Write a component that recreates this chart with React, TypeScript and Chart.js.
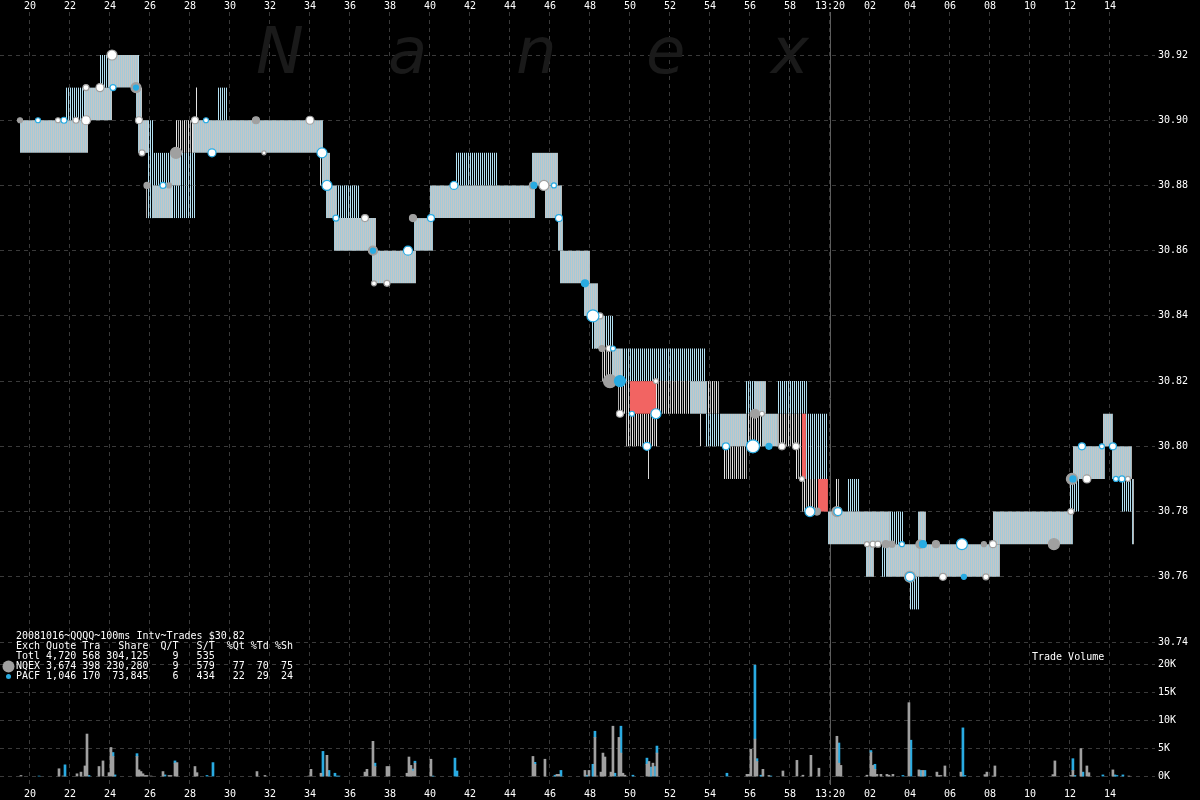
import React, { useEffect, useRef } from "react";
import { Chart, registerables } from "chart.js";

Chart.register(...registerables);

// ---- time axis: seconds after 13:19:00 ----
const timeTicks = [20, 22, 24, 26, 28, 30, 32, 34, 36, 38, 40, 42, 44, 46, 48, 50, 52, 54, 56, 58, 60, 62, 64, 66, 68, 70, 72, 74];
const timeMin = 18.5;
const timeMax = 76.25;
const minuteMark = 60;

// ---- price axis ----
const priceTicks = [30.74, 30.76, 30.78, 30.8, 30.82, 30.84, 30.86, 30.88, 30.9, 30.92];
const priceMin = 30.73755;
const priceMax = 30.93319;

// ---- volume axis ----
const volumeTicks = [0, 5000, 10000, 15000, 20000];
const volumeMin = -2036;
const volumeMax = 22607;

// ---- quote band segments (S solid, C cyan hatch, G gray hatch, R crossed) ----
const bandStart = [19.5, 21.75, 22.75, 23.45, 23.9, 25.4, 25.3, 25.4, 25.9, 25.65, 25.8, 26.1, 26.2, 27.0, 27.1, 27.5, 27.3, 28.15, 29.35, 28.3, 30.45, 34.5, 34.6, 34.8, 35.35, 35.2, 36.55, 37.1, 39.2, 40.0, 41.25, 45.1, 45.65, 45.75, 46.4, 46.5, 47.7, 48.05, 48.2, 48.1, 48.6, 49.1, 49.65, 49.4, 50.0, 51.3, 49.8, 53.0, 53.85, 50.9, 53.5, 53.75, 54.5, 54.7, 55.75, 56.25, 55.85, 56.6, 57.35, 57.35, 57.4, 58.3, 58.8, 58.6, 58.6, 59.4, 60.3, 60.85, 59.9, 63.0, 64.4, 61.8, 62.55, 62.85, 64.0, 64.5, 68.15, 72.0, 72.15, 73.65, 74.1, 74.55, 75.1];
const bandEnd = [22.9, 22.75, 24.1, 23.9, 25.4, 25.5, 25.6, 25.9, 26.2, 25.7, 26.1, 27.1, 27.0, 27.5, 28.3, 28.3, 28.15, 34.65, 29.9, 28.35, 30.5, 34.55, 35.0, 35.35, 36.5, 37.3, 36.6, 39.3, 40.15, 45.25, 43.4, 46.4, 45.7, 46.6, 46.65, 48.0, 48.4, 49.2, 48.75, 48.15, 49.1, 49.65, 53.8, 50.0, 51.3, 53.0, 51.4, 53.85, 54.5, 50.95, 53.55, 54.5, 55.85, 55.85, 56.25, 56.8, 56.6, 57.4, 57.4, 58.85, 58.6, 58.8, 59.9, 58.8, 59.4, 59.9, 60.5, 61.5, 63.0, 63.7, 64.8, 62.2, 62.85, 64.5, 64.5, 68.5, 72.15, 72.5, 73.75, 74.15, 75.1, 75.1, 75.2];
const bandLow = [30.89, 30.9, 30.9, 30.91, 30.91, 30.9, 30.9, 30.89, 30.87, 30.88, 30.87, 30.87, 30.88, 30.88, 30.87, 30.88, 30.89, 30.89, 30.9, 30.9, 30.88, 30.88, 30.88, 30.87, 30.87, 30.86, 30.85, 30.85, 30.86, 30.87, 30.88, 30.88, 30.87, 30.87, 30.86, 30.85, 30.84, 30.83, 30.83, 30.83, 30.82, 30.82, 30.82, 30.81, 30.81, 30.81, 30.8, 30.81, 30.81, 30.79, 30.8, 30.8, 30.8, 30.79, 30.81, 30.81, 30.8, 30.8, 30.79, 30.81, 30.8, 30.79, 30.79, 30.79, 30.78, 30.78, 30.78, 30.78, 30.77, 30.77, 30.77, 30.76, 30.76, 30.76, 30.75, 30.76, 30.77, 30.78, 30.79, 30.8, 30.79, 30.78, 30.77];
const bandHigh = [30.9, 30.91, 30.91, 30.92, 30.92, 30.92, 30.91, 30.9, 30.9, 30.89, 30.88, 30.88, 30.89, 30.89, 30.88, 30.89, 30.9, 30.9, 30.91, 30.91, 30.89, 30.89, 30.89, 30.88, 30.88, 30.87, 30.86, 30.86, 30.87, 30.88, 30.89, 30.89, 30.88, 30.88, 30.87, 30.86, 30.85, 30.84, 30.84, 30.84, 30.83, 30.83, 30.83, 30.82, 30.82, 30.82, 30.81, 30.82, 30.82, 30.8, 30.81, 30.81, 30.81, 30.8, 30.82, 30.82, 30.81, 30.81, 30.8, 30.82, 30.81, 30.8, 30.81, 30.81, 30.79, 30.79, 30.79, 30.79, 30.78, 30.78, 30.78, 30.77, 30.77, 30.77, 30.76, 30.77, 30.78, 30.79, 30.8, 30.81, 30.8, 30.79, 30.79];
const bandKind = ["S", "C", "S", "C", "S", "C", "S", "S", "C", "C", "G", "S", "C", "S", "C", "C", "G", "S", "C", "G", "C", "G", "S", "S", "C", "S", "C", "S", "S", "S", "C", "S", "G", "S", "S", "S", "S", "C", "S", "G", "G", "S", "C", "G", "R", "G", "G", "S", "G", "G", "G", "C", "S", "G", "C", "S", "G", "S", "C", "C", "G", "G", "C", "R", "G", "R", "G", "C", "S", "C", "S", "S", "C", "S", "C", "S", "S", "C", "S", "S", "S", "C", "S"];

// ---- trades: [time, price, size] ----
const nqexTrades: [number, number, number][] = [
  [19.5, 30.9, 2.5], [25.3, 30.91, 5], [25.85, 30.88, 3], [26.95, 30.88, 2.5], [27.3, 30.89, 5.5], [31.3, 30.9, 3.5],
  [37.15, 30.86, 4.5], [39.15, 30.87, 3.5], [45.15, 30.88, 3.5], [49.0, 30.82, 6.5], [56.25, 30.81, 4.5],
  [59.35, 30.78, 3.5], [60.35, 30.78, 5], [62.8, 30.77, 3.5], [63.1, 30.77, 3], [64.5, 30.77, 4], [65.3, 30.77, 3.5],
  [64.0, 30.76, 5.5], [67.7, 30.77, 2.5], [71.2, 30.77, 5.5], [72.1, 30.79, 5.5], [48.6, 30.83, 3],
];
const pacfTrades: [number, number, number][] = [
  [25.3, 30.91, 2.5], [37.15, 30.86, 2.5], [45.2, 30.88, 3], [47.75, 30.85, 3.5], [49.5, 30.82, 5.5],
  [56.95, 30.8, 3], [64.65, 30.77, 3.5], [66.7, 30.76, 2.5], [72.15, 30.79, 3],
];
const whiteBlueTrades: [number, number, number][] = [
  [20.4, 30.9, 2.5], [21.7, 30.9, 3], [24.15, 30.91, 3], [26.65, 30.88, 3], [28.8, 30.9, 2.5], [29.1, 30.89, 4],
  [34.6, 30.89, 5], [34.85, 30.88, 5], [35.3, 30.87, 3], [38.9, 30.86, 4.5], [40.05, 30.87, 3.5], [41.2, 30.88, 4],
  [46.2, 30.88, 2.5], [46.45, 30.87, 3.5], [48.15, 30.84, 6], [49.15, 30.83, 2.5], [50.1, 30.81, 2.5], [51.3, 30.81, 5],
  [50.85, 30.8, 4], [54.8, 30.8, 3.5], [56.15, 30.8, 6.5], [59.0, 30.78, 5], [60.4, 30.78, 4], [63.6, 30.77, 2.5],
  [66.6, 30.77, 5.5], [64.0, 30.76, 4.5], [72.6, 30.8, 3.5], [73.6, 30.8, 2.5], [74.15, 30.8, 3.5], [74.3, 30.79, 2.5],
  [74.6, 30.79, 3],
];
const whiteGrayTrades: [number, number, number][] = [
  [21.4, 30.9, 2.5], [22.3, 30.9, 3], [22.8, 30.9, 4.5], [22.8, 30.91, 3], [23.5, 30.91, 4], [24.1, 30.92, 5],
  [25.45, 30.9, 3.5], [25.6, 30.89, 3], [28.25, 30.9, 3.5], [31.7, 30.89, 2], [34.0, 30.9, 4], [36.75, 30.87, 3.5],
  [37.2, 30.85, 2.5], [37.85, 30.85, 3], [45.7, 30.88, 5], [48.5, 30.84, 3], [48.95, 30.83, 3], [51.3, 30.82, 2.5],
  [49.5, 30.81, 3.5], [57.6, 30.8, 3.5], [58.3, 30.8, 3.5], [56.6, 30.81, 2.5], [58.6, 30.79, 2.5], [61.85, 30.77, 2.5],
  [62.15, 30.77, 3], [62.4, 30.77, 3], [68.15, 30.77, 3.5], [65.65, 30.76, 3.5], [67.8, 30.76, 3], [72.05, 30.78, 3],
  [72.85, 30.79, 4], [74.9, 30.79, 2.5],
];

// ---- trade volume per 100ms: [time, shares] ----
const nqexVolume: [number, number][] = [
  [19.55, 200], [21.45, 1400], [21.65, 100], [22.35, 500], [22.55, 800], [22.75, 1900], [22.85, 7600], [23.45, 1800],
  [23.65, 2800], [23.95, 700], [24.05, 5200], [24.15, 3600], [25.35, 3600], [25.45, 1200], [25.55, 900], [25.65, 500],
  [25.75, 200], [25.85, 200], [26.05, 100], [26.65, 900], [26.95, 200], [27.05, 200], [27.25, 2400], [27.35, 2500],
  [28.25, 1800], [28.35, 700], [31.35, 900], [31.75, 200], [33.95, 100], [34.05, 1300], [34.55, 600], [34.85, 3800],
  [36.75, 800], [36.85, 1300], [37.15, 6300], [37.25, 1800], [37.85, 1800], [37.95, 1800], [38.85, 600], [38.95, 3500],
  [39.05, 2000], [39.15, 1000], [39.25, 2400], [40.05, 3100], [45.15, 3600], [45.25, 2200], [45.75, 3100], [46.35, 400],
  [46.45, 400], [47.75, 1100], [47.95, 1100], [48.25, 7000], [48.35, 100], [48.55, 800], [48.65, 4200], [48.75, 3500],
  [49.05, 800], [49.15, 9000], [49.45, 7000], [49.55, 4200], [49.65, 600], [49.75, 250], [50.85, 2200], [50.95, 2700],
  [51.15, 2400], [51.35, 4200], [55.85, 400], [55.95, 400], [56.05, 4900], [56.25, 6700], [56.35, 2700], [56.65, 1300],
  [56.95, 200], [57.65, 1000], [58.35, 2900], [58.65, 250], [59.05, 3800], [59.45, 1500], [60.35, 7200], [60.45, 2400],
  [60.55, 2000], [61.85, 250], [62.05, 4300], [62.15, 2000], [62.25, 1300], [62.35, 400], [62.55, 400], [62.85, 400],
  [62.95, 250], [63.15, 400], [63.95, 13200], [64.45, 1200], [64.65, 1100], [65.35, 800], [65.45, 200], [65.55, 200],
  [65.75, 1900], [66.55, 800], [67.75, 350], [67.85, 800], [68.15, 100], [68.25, 1900], [71.15, 350], [71.25, 2800],
  [72.05, 200], [72.15, 1100], [72.55, 5000], [72.85, 1900], [72.95, 700], [74.15, 1200], [74.95, 100],
];
const pacfVolume: [number, number][] = [
  [20.45, 100], [21.75, 2100], [22.95, 200], [24.15, 700], [24.25, 300], [25.35, 500], [26.75, 300], [27.25, 400],
  [28.85, 200], [29.15, 2500], [34.65, 4500], [34.95, 1100], [35.25, 600], [35.35, 100], [35.45, 100], [37.25, 600],
  [39.15, 350], [39.25, 350], [40.15, 100], [41.25, 3300], [41.35, 1000], [45.25, 350], [46.25, 250], [46.55, 1100],
  [47.85, 250], [48.15, 2200], [48.25, 1100], [49.25, 600], [49.55, 4800], [50.15, 250], [50.85, 1100], [51.05, 1700],
  [51.25, 1800], [51.35, 1250], [54.85, 600], [56.25, 13200], [56.35, 500], [56.55, 250], [57.05, 100], [60.45, 3600],
  [62.05, 350], [62.25, 900], [63.65, 200], [64.05, 6500], [64.55, 1100], [64.75, 1100], [66.65, 8700], [66.75, 200],
  [72.15, 2100], [72.25, 200], [72.65, 800], [73.65, 300], [74.25, 300], [74.35, 200], [74.65, 300],
];

// ---- text ----
const legendLines = [
  "20081016~QQQQ~100ms Intv~Trades $30.82",
  "Exch Quote Tra   Share  Q/T   S/T  %Qt %Td %Sh",
  "Totl 4,720 568 304,125    9   535",
  "NQEX 3,674 398 230,280    9   579   77  70  75",
  "PACF 1,046 170  73,845    6   434   22  29  24",
];
const volumeTitle = "Trade Volume";
const watermarkLetters = ["N", "a", "n", "e", "x"];
const watermarkX = [256, 388, 516, 646, 771];

const MONO = "'DejaVu Sans Mono', monospace";

function fmtTime(v: number): string {
  if (v === 60) return "13:20";
  const s = v > 60 ? v - 60 : v;
  return String(s).padStart(2, "0");
}

const noPad = (s: any) => {
  s.paddingLeft = 0;
  s.paddingRight = 0;
};

export default function App() {
  const ref = useRef<HTMLCanvasElement | null>(null);

  useEffect(() => {
    const canvas = ref.current;
    if (!canvas) return;
    const mainCtx = canvas.getContext("2d")!;
    const makePattern = (cols: (string | null)[]) => {
      const tile = document.createElement("canvas");
      tile.width = cols.length;
      tile.height = 1;
      const g = tile.getContext("2d")!;
      cols.forEach((c, i) => {
        if (c) {
          g.fillStyle = c;
          g.fillRect(i, 0, 1, 1);
        }
      });
      return mainCtx.createPattern(tile, "repeat")!;
    };
    const fills: Record<string, any> = {
      S: makePattern(["#a4cad8", "#c6c6c6"]),
      C: makePattern(["#b2e0f2", null]),
      G: makePattern(["#e8e8e8", null, "#b0b0b0", null]),
      R: "#f26462",
    };
    const kindOrder: Record<string, number> = { C: 40, G: 40, S: 30, R: 20 };

    const bandSets = bandStart.map((t0, i) => ({
      type: "line" as const,
      data: [
        { x: t0, y: bandHigh[i] },
        { x: bandEnd[i], y: bandHigh[i] },
      ],
      xAxisID: "x",
      yAxisID: "price",
      fill: { target: { value: bandLow[i] } },
      backgroundColor: fills[bandKind[i]],
      borderColor: "rgba(0,0,0,0)",
      borderWidth: 0,
      pointRadius: 0,
      pointHoverRadius: 0,
      order: kindOrder[bandKind[i]],
    }));

    const tradeSet = (arr: [number, number, number][], fill: string, border: string, order: number) => ({
      type: "scatter" as const,
      data: arr.map(([t, p]) => ({ x: t, y: p })),
      xAxisID: "x",
      yAxisID: "price",
      pointRadius: arr.map((d) => d[2]),
      pointHoverRadius: arr.map((d) => d[2]),
      backgroundColor: fill,
      borderColor: border,
      borderWidth: 1.2,
      order,
    });

    const volSet = (arr: [number, number][], color: string) => ({
      type: "bar" as const,
      data: arr.map(([t, v]) => ({ x: t, y: v })),
      xAxisID: "x",
      yAxisID: "vol",
      backgroundColor: color,
      borderWidth: 0,
      barThickness: 2,
      order: 10,
    });

    const overlay = {
      id: "nanexOverlay",
      beforeDatasetsDraw(chart: any) {
        const { ctx, chartArea, scales } = chart;
        ctx.save();
        ctx.fillStyle = "#1a1a1a";
        ctx.font = "italic 64px 'DejaVu Sans'";
        ctx.textBaseline = "alphabetic";
        watermarkLetters.forEach((ch, i) => ctx.fillText(ch, watermarkX[i], 73));
        const x = Math.round(scales.x.getPixelForValue(minuteMark)) + 0.5;
        ctx.strokeStyle = "#5c5c5c";
        ctx.lineWidth = 1;
        ctx.beginPath();
        ctx.moveTo(x, chartArea.top);
        ctx.lineTo(x, chartArea.bottom - 3);
        ctx.stroke();
        ctx.restore();
      },
      afterDatasetsDraw(chart: any) {
        const { ctx } = chart;
        ctx.save();
        ctx.fillStyle = "#ffffff";
        ctx.font = `10px ${MONO}`;
        ctx.textBaseline = "middle";
        legendLines.forEach((l, i) => ctx.fillText(l, 16, 636.5 + i * 10));
        ctx.fillText(volumeTitle, 1032, 657.5);
        ctx.fillStyle = "#a0a0a0";
        ctx.beginPath();
        ctx.arc(8.5, 666.5, 6, 0, Math.PI * 2);
        ctx.fill();
        ctx.fillStyle = "#29abe2";
        ctx.beginPath();
        ctx.arc(8.5, 676.5, 2.5, 0, Math.PI * 2);
        ctx.fill();
        ctx.restore();
      },
    };

    const gridColor = "#3a3a3a";
    const tickFont = { family: MONO, size: 10 };
    const timeTickOpts = {
      color: "#ffffff",
      font: tickFont,
      padding: 0,
      autoSkip: false,
      maxRotation: 0,
      minRotation: 0,
      callback: (v: any) => fmtTime(Number(v)),
    };

    const chart = new Chart(canvas, {
      type: "line",
      data: {
        datasets: [
          tradeSet(whiteBlueTrades, "#ffffff", "#29abe2", 0),
          tradeSet(whiteGrayTrades, "#ffffff", "#a0a0a0", 1),
          tradeSet(pacfTrades, "#29abe2", "#29abe2", 2),
          tradeSet(nqexTrades, "#a0a0a0", "#a0a0a0", 3),
          volSet(nqexVolume, "#a0a0a0"),
          volSet(pacfVolume, "#29abe2"),
          ...bandSets,
        ] as any,
      },
      options: {
        animation: false,
        responsive: true,
        maintainAspectRatio: false,
        events: [],
        layout: { autoPadding: false, padding: { left: 0, right: 9, top: 0, bottom: 0 } },
        plugins: { legend: { display: false }, tooltip: { enabled: false } },
        scales: {
          x: {
            type: "linear",
            position: "bottom",
            min: timeMin,
            max: timeMax,
            offset: false,
            stacked: true,
            afterBuildTicks: (s: any) => {
              s.ticks = timeTicks.map((v) => ({ value: v }));
            },
            afterFit: noPad,
            ticks: timeTickOpts,
            grid: { color: gridColor, drawTicks: false, lineWidth: 1, offset: false },
            border: { display: false, dash: [4, 4] },
          },
          xTop: {
            type: "linear",
            position: "top",
            min: timeMin,
            max: timeMax,
            offset: false,
            afterBuildTicks: (s: any) => {
              s.ticks = timeTicks.map((v) => ({ value: v }));
            },
            afterFit: noPad,
            ticks: timeTickOpts,
            grid: { display: false, drawTicks: false, offset: false },
            border: { display: false },
          },
          price: {
            type: "linear",
            position: "right",
            stack: "right",
            stackWeight: 638,
            min: priceMin,
            max: priceMax,
            afterBuildTicks: (s: any) => {
              s.ticks = priceTicks.map((v) => ({ value: v }));
            },
            ticks: {
              color: "#ffffff",
              font: tickFont,
              padding: 3,
              callback: (v: any) => Number(v).toFixed(2),
            },
            grid: { color: gridColor, drawTicks: false },
            border: { display: false, dash: [4, 4] },
          },
          vol: {
            type: "linear",
            position: "right",
            stack: "right",
            stackWeight: 138,
            stacked: true,
            beginAtZero: false,
            min: volumeMin,
            max: volumeMax,
            afterBuildTicks: (s: any) => {
              s.ticks = volumeTicks.map((v) => ({ value: v }));
            },
            ticks: {
              color: "#ffffff",
              font: tickFont,
              padding: 3,
              callback: (v: any) => `${Math.round(Number(v) / 1000)}K`,
            },
            grid: { color: gridColor, drawTicks: false },
            border: { display: false, dash: [4, 4] },
          },
        } as any,
      },
      plugins: [overlay],
    });

    return () => chart.destroy();
  }, []);

  return (
    <div style={{ position: "fixed", left: 0, top: 0, width: 1200, height: 800, background: "#000" }}>
      <canvas ref={ref} />
    </div>
  );
}
